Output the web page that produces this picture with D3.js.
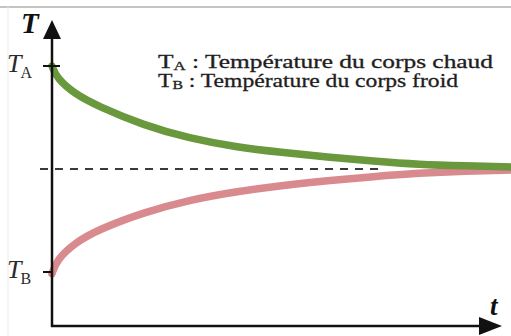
<!DOCTYPE html>
<html>
<head>
<meta charset="utf-8">
<script src="https://cdn.jsdelivr.net/npm/d3@7"></script>
<style>
  body { margin: 0; background: #fff; }
  svg { display: block; }
</style>
</head>
<body>
<svg></svg>
<script>
// time steps (arbitrary units) and temperatures
var times = [0, 0.1, 0.5, 1, 2, 3, 4, 5, 6, 7, 8, 9, 10];
var hotBody = [80, 76.5, 71.8, 68.3, 62.7, 58.9, 56.4, 54.8, 53.5, 52.3, 51.3, 50.9, 50.6];
var coldBody = [19.5, 23.5, 28.5, 32.3, 37.4, 41, 43.4, 45.2, 46.6, 47.8, 48.8, 49.4, 49.7];
var tA = 80, tB = 20, tEq = 50;
var legendLines = [
    {sym: "T", sub: "A", text: " : Température du corps chaud"},
    {sym: "T", sub: "B", text: " : Température du corps froid"}
];

function init() {
    var w = 511;
    var h = 336;

    var svg = d3.select("svg")
                .attr("width", w)
                .attr("height", h);

    // light frame of the original scan
    svg.append("line").attr("x1", 0).attr("x2", w).attr("y1", 7).attr("y2", 7)
       .attr("stroke", "#c4c4c4").attr("stroke-width", 2);
    svg.append("line").attr("x1", 8).attr("x2", 8).attr("y1", 7).attr("y2", h)
       .attr("stroke", "#ececec").attr("stroke-width", 1);

    var x = d3.scaleLinear().domain([0, 10]).range([52, 511]);
    var y = d3.scaleLinear().domain([tB, tA]).range([272, 66]);

    var axisX = 52, axisY = 326;

    // equilibrium temperature
    svg.append("line")
       .attr("x1", 40).attr("x2", 385)
       .attr("y1", y(tEq)).attr("y2", y(tEq))
       .attr("stroke", "#3a3a3a")
       .attr("stroke-width", 2)
       .attr("stroke-dasharray", "8,7");

    var line = d3.line()
                 .x(function(d) { return x(d[0]); })
                 .y(function(d) { return y(d[1]); })
                 .curve(d3.curveBasis);

    svg.append("path")
       .attr("d", line(d3.zip(times, coldBody)))
       .attr("fill", "none")
       .attr("stroke", "#d98a8f")
       .attr("stroke-width", 7.5)
       .attr("stroke-linecap", "round");

    svg.append("path")
       .attr("d", line(d3.zip(times, hotBody)))
       .attr("fill", "none")
       .attr("stroke", "#6a983d")
       .attr("stroke-width", 7.5)
       .attr("stroke-linecap", "round");

    // axes
    svg.append("line").attr("x1", axisX).attr("x2", axisX).attr("y1", 34).attr("y2", axisY + 1)
       .attr("stroke", "#111").attr("stroke-width", 2.5);
    svg.append("line").attr("x1", axisX - 1).attr("x2", 486).attr("y1", axisY).attr("y2", axisY)
       .attr("stroke", "#111").attr("stroke-width", 2.5);
    svg.append("path").attr("d", "M52,20 L43,39 L61,39 Z").attr("fill", "#111");
    svg.append("path").attr("d", "M502,326 L479,317 L479,335 Z").attr("fill", "#111");

    // ticks for TA and TB
    svg.append("line").attr("x1", 43).attr("x2", 60).attr("y1", y(tA)).attr("y2", y(tA))
       .attr("stroke", "#111").attr("stroke-width", 2);
    svg.append("line").attr("x1", 43).attr("x2", 52).attr("y1", y(tB)).attr("y2", y(tB))
       .attr("stroke", "#111").attr("stroke-width", 2);

    var serif = "'Liberation Serif', 'DejaVu Serif', serif";

    svg.append("text").attr("x", 21).attr("y", 33)
       .attr("font-family", serif).attr("font-style", "italic").attr("font-weight", "bold")
       .attr("font-size", 29).attr("fill", "#111").text("T");
    svg.append("text").attr("x", 490).attr("y", 315)
       .attr("font-family", serif).attr("font-style", "italic").attr("font-weight", "bold")
       .attr("font-size", 27).attr("fill", "#111").text("t");

    var tickLabels = [{v: tA, sub: "A"}, {v: tB, sub: "B"}];
    tickLabels.forEach(function(d) {
        var t = svg.append("text").attr("x", 7).attr("y", y(d.v) + 5.5)
                   .attr("font-family", serif).attr("font-size", 26).attr("fill", "#2a2a2a");
        t.append("tspan").attr("font-style", "italic").text("T");
        t.append("tspan").attr("font-size", 16).attr("dy", 6).attr("dx", -1).text(d.sub);
    });

    // legend
    var lengths = [335, 300];
    legendLines.forEach(function(d, i) {
        var t = svg.append("text").attr("x", 158).attr("y", 68 + i * 19)
                   .attr("font-family", serif).attr("font-size", 18).attr("fill", "#1e1e1e")
                   .attr("stroke", "#1e1e1e").attr("stroke-width", 0.3)
                   .attr("textLength", lengths[i])
                   .attr("lengthAdjust", "spacingAndGlyphs");
        t.append("tspan").text(d.sym);
        t.append("tspan").attr("font-size", 12).attr("dy", 2).text(d.sub);
        t.append("tspan").attr("dy", -2).text(d.text);
    });
}
window.onload = init;
</script>
</body>
</html>
